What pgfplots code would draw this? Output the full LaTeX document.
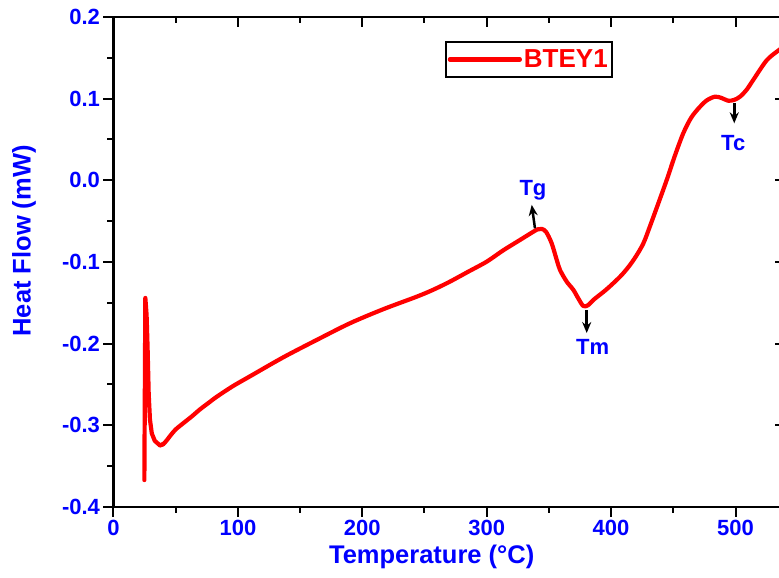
\documentclass[border=0pt]{standalone}
\usepackage{pgfplots}
\pgfplotsset{compat=1.18}
\usepackage{pgfplotstable}
\usepackage{fontspec}
\setmainfont{Liberation Sans}
\usetikzlibrary{arrows.meta}

\pgfplotstableread{
x y
24.8 -0.367
25.6 -0.144
26.6 -0.165
27.4 -0.205
28.3 -0.262
29.3 -0.293
30.8 -0.310
33.2 -0.319
37.3 -0.3245
40 -0.323
}\spike

\pgfplotstableread{
x y
37.3 -0.3245
40 -0.323
43 -0.318
46 -0.312
50 -0.305
56 -0.2975
63 -0.289
69.5 -0.2805
76 -0.273
83 -0.265
96 -0.252
109.7 -0.240
136.5 -0.2167
163.3 -0.1955
190.1 -0.175
216.9 -0.1578
243.7 -0.1425
257 -0.134
270.5 -0.124
285 -0.112
300 -0.0996
313 -0.086
326.8 -0.073
337.5 -0.0629
341 -0.0600
344.2 -0.0595
347.7 -0.063
352.2 -0.077
356.3 -0.0975
359 -0.110
364.3 -0.124
369.6 -0.134
373.6 -0.1445
377.7 -0.154
381.7 -0.1527
385.7 -0.1465
396.4 -0.1334
407.2 -0.118
414 -0.106
420 -0.093
426 -0.077
431.3 -0.056
438 -0.028
444.7 0.0004
451 0.029
458 0.0576
464.5 0.077
471.4 0.090
477 0.098
483.4 0.1024
488.5 0.1010
494.2 0.0975
499 0.0985
503.6 0.1024
509 0.111
514.3 0.123
525.1 0.147
535 0.1596
540 0.165
}\maincurve

\newcommand{\tickfont}{\bfseries\fontsize{22}{22}\selectfont}
\newcommand{\labfont}{\bfseries\fontsize{25.5}{26}\selectfont}

\begin{document}
\begin{tikzpicture}
\useasboundingbox (-113.5pt,-71pt) rectangle (665.5pt,507pt);
\clip (-113.5pt,-71pt) rectangle (665.5pt,507pt);
\begin{axis}[
  at={(0pt,0pt)}, anchor=south west,
  scale only axis, width=671.76pt, height=490pt,
  xmin=0, xmax=540, ymin=-0.4, ymax=0.2,
  axis x line*=top, axis y line*=right,
  tick align=inside,
  axis line style={line width=2.5pt, black},
  tick style={black, line width=2pt},
  major tick length=10pt, minor tick length=6pt,
  xtick={0,100,200,300,400,500}, minor x tick num=1,
  ytick={-0.4,-0.3,-0.2,-0.1,0,0.1,0.2}, minor y tick num=1,
  xticklabels={}, yticklabels={},
]
\end{axis}
\begin{axis}[
  at={(0pt,0pt)}, anchor=south west,
  scale only axis, width=671.76pt, height=490pt,
  xmin=0, xmax=540, ymin=-0.4, ymax=0.2,
  axis x line*=bottom, axis y line*=left,
  tick align=outside,
  axis line style={line width=2.5pt, black},
  tick style={black, line width=2pt},
  major tick length=10pt, minor tick length=6pt,
  xtick={0,100,200,300,400,500}, minor x tick num=1,
  ytick={-0.4,-0.3,-0.2,-0.1,0,0.1,0.2}, minor y tick num=1,
  /pgf/number format/assume math mode=true,
  tick label style={font=\tickfont, text=blue},
  yticklabel style={/pgf/number format/.cd, fixed, fixed zerofill, precision=1},
  xlabel={Temperature (°C)}, ylabel={Heat Flow (mW)},
  label style={font=\labfont, text=blue},
  xlabel style={at={(axis description cs:0.4737,-0.102)}, anchor=center},
  ylabel style={at={(axis description cs:-0.1332,0.543)}, anchor=center},
  legend style={at={(axis description cs:0.4935,0.951)}, anchor=north west,
    draw=black, line width=1.5pt, font=\bfseries\fontsize{26}{26}\selectfont, text=red,
    inner xsep=2pt, inner ysep=6pt},
  legend image code/.code={\path (-2pt,0pt) -- (68pt,0pt); \draw[#1, line width=4pt] (0pt,0pt) -- (62pt,0pt);},
]
\addplot[red, line width=4.2pt, line join=round, line cap=round, forget plot] table[x=x,y=y] {\spike};
\addplot[red, line width=4.2pt, line join=round, line cap=round, smooth, tension=0.5] table[x=x,y=y] {\maincurve};
\addlegendentry{BTEY1}
\draw[-{Stealth[length=11pt,width=9pt]}, line width=2.5pt] (axis cs:338.8,-0.0587) -- (axis cs:336.2,-0.030);
\node[font=\bfseries\fontsize{22}{22}\selectfont, text=blue] at (axis cs:337.2,-0.0118) {Tg};
\draw[-{Stealth[length=11pt,width=9pt]}, line width=2.5pt] (axis cs:380.4,-0.1588) -- (axis cs:380.4,-0.187);
\node[font=\bfseries\fontsize{22}{22}\selectfont, text=blue] at (axis cs:385.2,-0.2037) {Tm};
\draw[-{Stealth[length=11pt,width=9pt]}, line width=2.5pt] (axis cs:499,0.0943) -- (axis cs:499,0.0698);
\node[font=\bfseries\fontsize{22}{22}\selectfont, text=blue] at (axis cs:498.2,0.046) {Tc};
\end{axis}
\end{tikzpicture}
\end{document}
